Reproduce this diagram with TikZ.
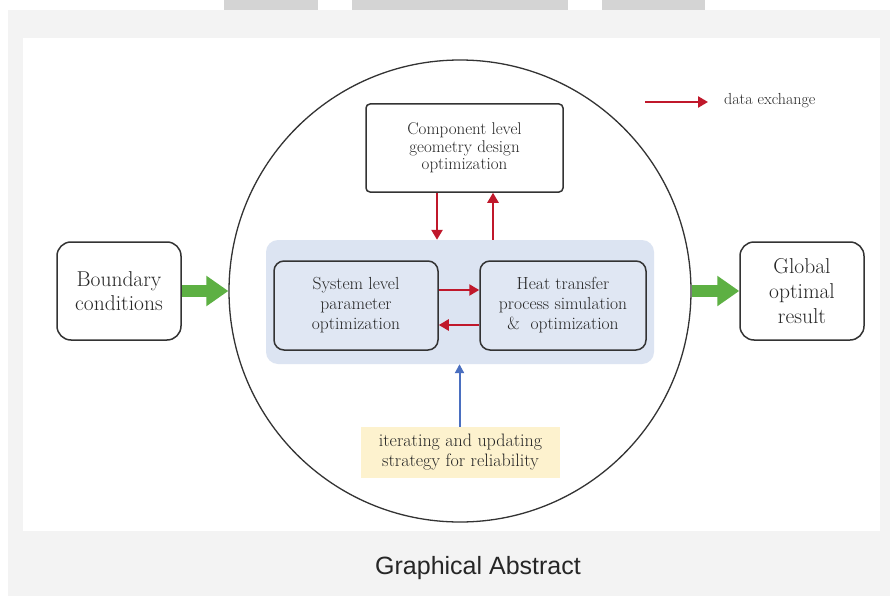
\documentclass[tikz,border=0pt]{standalone}
\usepackage{fontspec}
\newfontfamily\capfont{Liberation Sans}
\usetikzlibrary{arrows.meta,calc}
\definecolor{bggray}{HTML}{F3F3F3}
\definecolor{topgray}{HTML}{D4D4D4}
\definecolor{boxline}{HTML}{333333}
\definecolor{regionblue}{HTML}{DCE4F2}
\definecolor{innerblue}{HTML}{E0E7F3}
\definecolor{softyellow}{HTML}{FDF2CE}
\definecolor{arrred}{HTML}{C0182B}
\definecolor{arrgreen}{HTML}{5DB043}
\definecolor{arrblue}{HTML}{4A6FC0}
\definecolor{txtgray}{HTML}{262626}
\begin{document}
\begin{tikzpicture}[x=1pt,y=-1pt,
  box/.style={draw=boxline, line width=1.5pt, align=center, inner sep=0pt, text=txtgray},
  bigbox/.style={box, fill=white, rounded corners=14pt, minimum width=124pt, minimum height=98pt,
     font=\fontsize{21.5}{24}\selectfont},
  midbox/.style={box, fill=innerblue, rounded corners=10pt, minimum height=89pt,
     font=\fontsize{17.5}{20}\selectfont},
  redarr/.style={draw=arrred, line width=2.4pt, -{Triangle[length=10pt,width=11pt]}},
  greenarr/.style={draw=arrgreen, line width=12pt, -{Triangle[length=22pt,width=29pt]}},
  bluearr/.style={draw=arrblue, line width=2pt, -{Triangle[length=9pt,width=9pt]}}
]
\useasboundingbox (0,0) rectangle (890,596);
% page background
\fill[white] (0,0) rectangle (890,596);
\fill[bggray] (8,10) rectangle (890,596);
\fill[topgray] (224,0) rectangle (318,10);
\fill[topgray] (352,0) rectangle (568,10);
\fill[topgray] (602,0) rectangle (705,10);
\fill[white] (23,38) rectangle (880,531);

% big circle
\node[draw=boxline, circle, line width=1.3pt, minimum size=462pt, inner sep=0pt] (circ) at (460,291) {};

% blue region
\node[fill=regionblue, rounded corners=12pt, minimum width=388pt, minimum height=124pt, inner sep=0pt] (region) at (460,302) {};

% boxes
\node[box, fill=white, rounded corners=4pt, minimum width=197pt, minimum height=88pt,
   font=\fontsize{17}{17.5}\selectfont] (comp) at (464.5,148)
   {Component level\\geometry design\\optimization};
\node[midbox, minimum width=164pt] (sys) at (356,305.5)
   {System level\\parameter\\optimization};
\node[midbox, minimum width=166pt] (heat) at (563,305.5)
   {Heat transfer\\process simulation\\\&~ optimization};
\node[fill=softyellow, minimum width=199pt, minimum height=51pt, inner sep=0pt, align=center,
   text=txtgray, font=\fontsize{18}{20}\selectfont] (iter) at (460.5,452.5)
   {iterating and updating\\strategy for reliability};
\node[bigbox] (bound) at (119,291) {Boundary\\conditions};
\node[bigbox, font=\fontsize{21.5}{25}\selectfont] (glob) at (802,291) {Global\\optimal\\result};

% legend
\coordinate (legA) at (645,102);
\coordinate (legB) at (708,102);
\draw[redarr] (legA) -- (legB);
\node[anchor=west, text=txtgray, font=\fontsize{16}{18}\selectfont, inner sep=0pt] (legtxt) at (724,101) {data exchange};

% red arrows
\draw[redarr] ([xshift=-27.5pt]comp.south) -- ([xshift=-27.5pt]comp.south |- region.north);
\draw[redarr] ([xshift=28.5pt]comp.south |- region.north) -- ([xshift=28.5pt]comp.south);
\draw[redarr] ([yshift=15.5pt]sys.east) -- ([yshift=15.5pt]heat.west);
\draw[redarr] ([yshift=-19.5pt]heat.west) -- ([yshift=-19.5pt]sys.east);

% blue arrow
\draw[bluearr] ([xshift=-1pt]iter.north) -- ([xshift=-1pt]iter.north |- region.south);

% green arrows
\draw[greenarr] (bound.east) -- (circ.west);
\draw[greenarr] (circ.east) -- (glob.west);

% caption
\node[font=\capfont\fontsize{25}{29}\selectfont, text=txtgray, inner sep=0pt] (cap) at (478,568) {Graphical Abstract};
\end{tikzpicture}
\end{document}
